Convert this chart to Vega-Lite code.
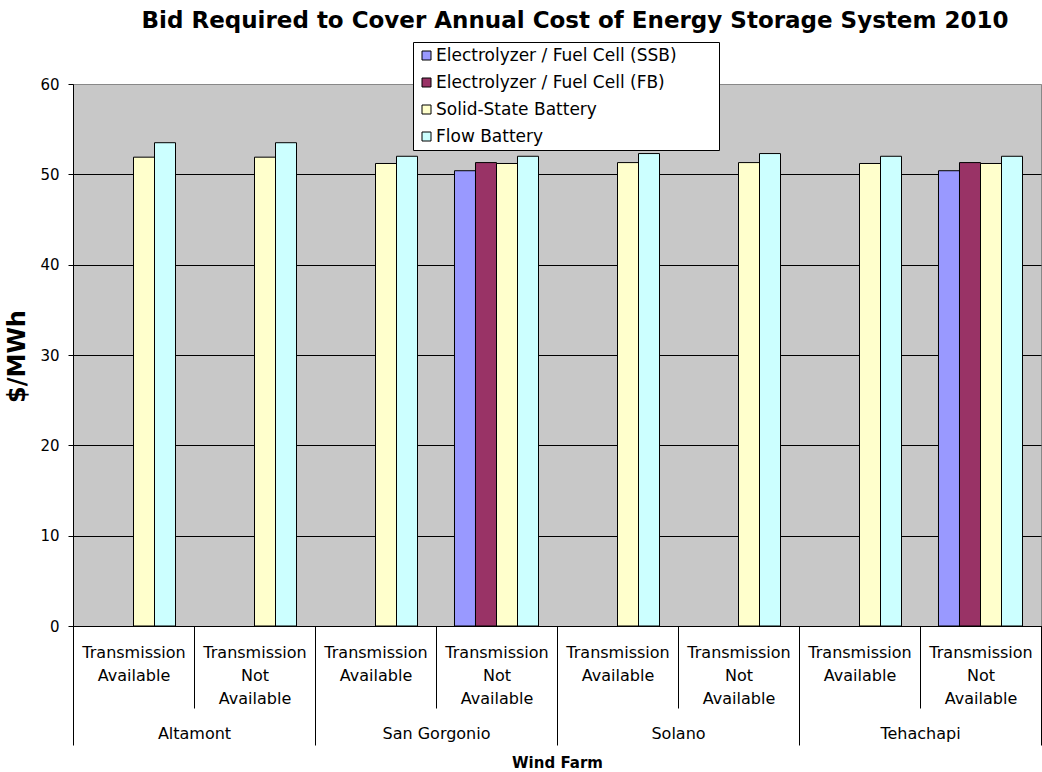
{
  "$schema": "https://vega.github.io/schema/vega-lite/v6.json",
  "autosize": {"type": "none"},
  "width": 968,
  "height": 542,
  "padding": {"left": 73, "top": 84, "right": 1, "bottom": 146},
  "background": "white",
  "config": {
    "font": "DejaVu Sans",
    "view": {"stroke": "#888888", "strokeWidth": 1, "fill": "#C8C8C8"}
  },
  "title": {
    "text": "Bid Required to Cover Annual Cost of Energy Storage System 2010",
    "fontSize": 23,
    "fontWeight": "bold",
    "color": "black",
    "anchor": "middle",
    "frame": "group",
    "dx": 18,
    "offset": 9
  },
  "data": {
    "values": [
      {"group": "Altamont|Available", "farm": "Altamont", "series": "Solid-State Battery", "value": 51.9},
      {"group": "Altamont|Available", "farm": "Altamont", "series": "Flow Battery", "value": 53.5},
      {"group": "Altamont|Not Available", "farm": "Altamont", "series": "Solid-State Battery", "value": 51.9},
      {"group": "Altamont|Not Available", "farm": "Altamont", "series": "Flow Battery", "value": 53.5},
      {"group": "San Gorgonio|Available", "farm": "San Gorgonio", "series": "Solid-State Battery", "value": 51.2},
      {"group": "San Gorgonio|Available", "farm": "San Gorgonio", "series": "Flow Battery", "value": 52.0},
      {"group": "San Gorgonio|Not Available", "farm": "San Gorgonio", "series": "Electrolyzer / Fuel Cell (SSB)", "value": 50.4},
      {"group": "San Gorgonio|Not Available", "farm": "San Gorgonio", "series": "Electrolyzer / Fuel Cell (FB)", "value": 51.3},
      {"group": "San Gorgonio|Not Available", "farm": "San Gorgonio", "series": "Solid-State Battery", "value": 51.2},
      {"group": "San Gorgonio|Not Available", "farm": "San Gorgonio", "series": "Flow Battery", "value": 52.0},
      {"group": "Solano|Available", "farm": "Solano", "series": "Solid-State Battery", "value": 51.3},
      {"group": "Solano|Available", "farm": "Solano", "series": "Flow Battery", "value": 52.3},
      {"group": "Solano|Not Available", "farm": "Solano", "series": "Solid-State Battery", "value": 51.3},
      {"group": "Solano|Not Available", "farm": "Solano", "series": "Flow Battery", "value": 52.3},
      {"group": "Tehachapi|Available", "farm": "Tehachapi", "series": "Solid-State Battery", "value": 51.2},
      {"group": "Tehachapi|Available", "farm": "Tehachapi", "series": "Flow Battery", "value": 52.0},
      {"group": "Tehachapi|Not Available", "farm": "Tehachapi", "series": "Electrolyzer / Fuel Cell (SSB)", "value": 50.4},
      {"group": "Tehachapi|Not Available", "farm": "Tehachapi", "series": "Electrolyzer / Fuel Cell (FB)", "value": 51.3},
      {"group": "Tehachapi|Not Available", "farm": "Tehachapi", "series": "Solid-State Battery", "value": 51.2},
      {"group": "Tehachapi|Not Available", "farm": "Tehachapi", "series": "Flow Battery", "value": 52.0}
    ]
  },
  "layer": [
    {
      "mark": {"type": "bar", "stroke": "black", "strokeWidth": 1},
      "encoding": {
        "x": {
          "field": "group",
          "type": "nominal",
          "sort": null,
          "scale": {"paddingInner": 0, "paddingOuter": 0},
          "axis": {
            "title": null,
            "orient": "bottom",
            "domainColor": "black",
            "domainWidth": 1,
            "tickBand": "extent",
            "tickColor": "black",
            "tickWidth": 1,
            "tickSize": 82,
            "labelExpr": "!datum.label ? '' : (indexof(datum.label, 'Not') >= 0 ? ['Transmission', 'Not', 'Available'] : ['Transmission', 'Available'])",
            "labelFontSize": 16,
            "labelColor": "black",
            "labelLineHeight": 23,
            "labelPadding": -64,
            "labelAngle": 0,
            "labelOverlap": false,
            "labelLimit": 0,
            "grid": false
          }
        },
        "xOffset": {
          "field": "series",
          "type": "nominal",
          "scale": {
            "domain": ["Electrolyzer / Fuel Cell (SSB)", "Electrolyzer / Fuel Cell (FB)", "Solid-State Battery", "Flow Battery"],
            "paddingInner": 0,
            "paddingOuter": 0.88
          }
        },
        "y": {
          "field": "value",
          "type": "quantitative",
          "scale": {"domain": [0, 60], "nice": false},
          "axis": {
            "title": "$/MWh",
            "titleFontSize": 24,
            "titleFontWeight": "bold",
            "titleColor": "black",
            "titleAngle": -90,
            "titleX": -49,
            "titleY": 272,
            "titleAlign": "center",
            "titleBaseline": "alphabetic",
            "values": [0, 10, 20, 30, 40, 50, 60],
            "grid": true,
            "gridColor": {"condition": {"test": "datum.value === 60", "value": "#888888"}, "value": "black"},
            "gridWidth": 1,
            "domainColor": "black",
            "tickColor": "black",
            "tickSize": 5,
            "labelFontSize": 15,
            "labelColor": "black",
            "labelPadding": 9
          }
        },
        "color": {
          "field": "series",
          "type": "nominal",
          "scale": {
            "domain": ["Electrolyzer / Fuel Cell (SSB)", "Electrolyzer / Fuel Cell (FB)", "Solid-State Battery", "Flow Battery"],
            "range": ["#9999FF", "#993366", "#FFFFCC", "#CCFFFF"]
          },
          "legend": {
            "orient": "none",
            "legendX": 340,
            "legendY": -42,
            "title": null,
            "symbolType": "square",
            "symbolSize": 81,
            "symbolStrokeColor": "black",
            "symbolStrokeWidth": 1,
            "labelFontSize": 17,
            "labelColor": "black",
            "labelOffset": 1,
            "labelLimit": 400,
            "labelExpr": "datum.label + '\u2800\u2800\u2800'",
            "rowPadding": 9,
            "padding": 5,
            "strokeColor": "black",
            "fillColor": "white",
            "cornerRadius": 0
          }
        }
      }
    },
    {
      "mark": {"type": "rule", "opacity": 0},
      "encoding": {
        "x": {
          "field": "farm",
          "type": "nominal",
          "sort": null,
          "scale": {"paddingInner": 0, "paddingOuter": 0},
          "axis": {
            "orient": "bottom",
            "title": "Wind Farm",
            "titleFontSize": 15,
            "titleFontWeight": "bold",
            "titleColor": "black",
            "titleBaseline": "alphabetic",
            "titleY": 141,
            "domain": false,
            "tickBand": "extent",
            "tickColor": "black",
            "tickWidth": 1,
            "tickSize": 119,
            "labelFontSize": 16,
            "labelColor": "black",
            "labelPadding": -20,
            "labelAngle": 0,
            "labelOverlap": false,
            "grid": false
          }
        }
      }
    }
  ],
  "resolve": {"scale": {"x": "independent"}, "axis": {"x": "independent"}}
}
